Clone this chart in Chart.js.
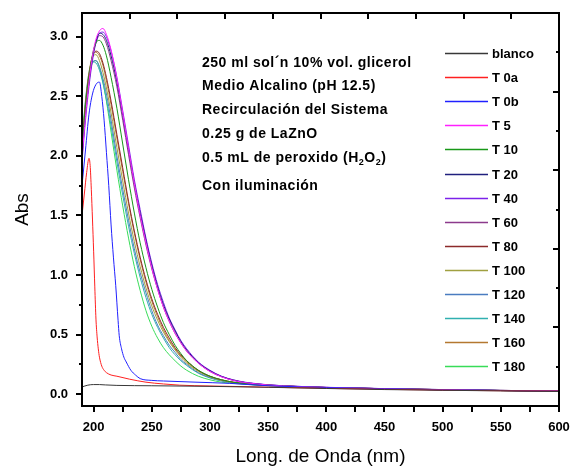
<!DOCTYPE html>
<html><head><meta charset="utf-8">
<script src="https://cdn.jsdelivr.net/npm/chart.js@4"></script>
<style>html,body{margin:0;padding:0;background:#fff}</style>
</head><body>
<canvas id="c" width="571" height="466"></canvas>
<script>
// ---- data ----
const wavelengths = [190,193,196,199,202,205,208,211,215,220,225,230,235,240,245,250,255,260,265,270,275,280,290,300,310,320,330,340,350,375,400,450,500,550,600];
const blancoWl = [190,195,200,205,210,220,250,300,350,400,450,500,550,600];
const blanco = [0.06,0.075,0.08,0.08,0.077,0.073,0.07,0.065,0.057,0.047,0.038,0.032,0.027,0.022];
const t0aWl = [190,192,194,196,197,198,199,200,201,202,203,204,205,207,209,211,215,220,231,245,260,274,300,317,350,400,450,500,550,600];
const t0a = [1.5,1.68,1.86,1.98,1.92,1.72,1.47,1.2,0.9,0.63,0.48,0.38,0.31,0.235,0.2,0.18,0.16,0.15,0.125,0.1,0.085,0.075,0.068,0.065,0.058,0.048,0.04,0.033,0.028,0.025];
const t0bWl = [190,193,196,199,202,205,207,209,211,213,215,217,219,221,222,224,226,228,232,236,240,250,260,288,317,350,400,450,500,550,600];
const t0b = [1.75,2.05,2.35,2.52,2.6,2.62,2.5,2.3,2.03,1.75,1.42,1.15,0.91,0.62,0.49,0.38,0.31,0.27,0.2,0.16,0.13,0.115,0.11,0.1,0.09,0.07,0.055,0.045,0.035,0.03,0.025];
const t5   = [1.98,2.33,2.62,2.84,2.98,3.05,3.07,3.02,2.89,2.65,2.36,2.06,1.77,1.5,1.27,1.06,0.88,0.73,0.61,0.51,0.43,0.36,0.26,0.19,0.145,0.115,0.097,0.085,0.076,0.064,0.056,0.045,0.037,0.03,0.025];
const t10  = [2.05,2.4,2.66,2.85,2.95,2.97,2.93,2.84,2.66,2.4,2.1,1.8,1.52,1.27,1.06,0.88,0.73,0.6,0.5,0.41,0.34,0.28,0.2,0.15,0.12,0.1,0.088,0.08,0.074,0.063,0.055,0.045,0.037,0.03,0.025];
const t20  = [2.0,2.35,2.62,2.83,2.96,3.03,3.02,2.97,2.84,2.62,2.34,2.05,1.77,1.52,1.29,1.08,0.9,0.75,0.63,0.53,0.44,0.37,0.265,0.195,0.148,0.118,0.098,0.086,0.077,0.065,0.056,0.046,0.038,0.031,0.026];
const t40  = [1.95,2.3,2.58,2.8,2.95,3.03,3.04,3.0,2.88,2.66,2.38,2.09,1.8,1.55,1.31,1.1,0.92,0.77,0.64,0.54,0.45,0.38,0.27,0.2,0.15,0.12,0.1,0.088,0.078,0.065,0.057,0.046,0.038,0.031,0.026];
const t60  = [2.02,2.37,2.63,2.83,2.95,3.01,3.0,2.94,2.8,2.58,2.3,2.01,1.73,1.48,1.25,1.05,0.88,0.73,0.61,0.51,0.43,0.36,0.26,0.19,0.145,0.115,0.097,0.085,0.076,0.064,0.056,0.045,0.037,0.031,0.025];
const t80  = [2.08,2.43,2.68,2.83,2.88,2.86,2.78,2.66,2.46,2.18,1.9,1.62,1.37,1.15,0.96,0.8,0.67,0.56,0.47,0.39,0.33,0.28,0.2,0.15,0.12,0.1,0.088,0.08,0.074,0.063,0.055,0.045,0.037,0.03,0.025];
const t100 = [2.1,2.45,2.7,2.83,2.85,2.8,2.7,2.57,2.36,2.07,1.79,1.52,1.28,1.07,0.89,0.74,0.62,0.52,0.44,0.37,0.31,0.26,0.19,0.145,0.115,0.097,0.086,0.078,0.072,0.062,0.054,0.044,0.036,0.03,0.025];
const t120 = [2.08,2.43,2.67,2.79,2.8,2.75,2.65,2.52,2.3,2.0,1.72,1.46,1.22,1.02,0.85,0.7,0.58,0.49,0.41,0.35,0.29,0.25,0.18,0.14,0.112,0.095,0.085,0.077,0.072,0.062,0.054,0.044,0.036,0.03,0.025];
const t140 = [2.12,2.47,2.7,2.79,2.78,2.72,2.61,2.47,2.25,1.95,1.67,1.41,1.18,0.98,0.81,0.67,0.56,0.47,0.39,0.33,0.28,0.24,0.175,0.135,0.11,0.094,0.084,0.077,0.071,0.062,0.054,0.044,0.036,0.03,0.025];
const t160 = [2.06,2.42,2.68,2.84,2.87,2.84,2.76,2.63,2.43,2.15,1.87,1.6,1.35,1.13,0.94,0.78,0.65,0.54,0.45,0.38,0.32,0.27,0.195,0.148,0.118,0.099,0.087,0.079,0.073,0.063,0.055,0.045,0.037,0.031,0.026];
const t180 = [2.1,2.45,2.68,2.78,2.8,2.74,2.62,2.46,2.2,1.88,1.58,1.31,1.07,0.87,0.7,0.57,0.47,0.39,0.33,0.28,0.235,0.2,0.15,0.12,0.1,0.09,0.082,0.076,0.071,0.062,0.054,0.044,0.036,0.03,0.025];

const seriesLabels = ['blanco','T 0a','T 0b','T 5','T 10','T 20','T 40','T 60','T 80','T 100','T 120','T 140','T 160','T 180'];
const seriesColors = ['#383838','#ff2020','#2020ff','#ff20ff','#189818','#20207e','#7c22ea','#8c3a8c','#8c2a2a','#a0a040','#4a7cc0','#30b0b0','#b47830','#38dc58'];
const seriesX = [blancoWl,t0aWl,t0bWl,wavelengths,wavelengths,wavelengths,wavelengths,wavelengths,wavelengths,wavelengths,wavelengths,wavelengths,wavelengths,wavelengths];
const seriesY = [blanco,t0a,t0b,t5,t10,t20,t40,t60,t80,t100,t120,t140,t160,t180];

const noteLines = ['250 ml sol\u00b4n 10% vol. glicerol','Medio Alcalino (pH 12.5)','Recirculaci\u00f3n del Sistema','0.25 g de LaZnO','0.5 mL de peroxido (H|2|O|2|)','Con iluminaci\u00f3n'];
const xTitle = 'Long. de Onda (nm)';
const yTitle = 'Abs';

const datasets = seriesLabels.map((lab, i) => ({
  label: lab,
  data: seriesX[i].map((w, k) => ({x: w, y: seriesY[i][k]})),
  borderColor: seriesColors[i],
  borderWidth: 1,
  pointRadius: 0,
  fill: false,
  cubicInterpolationMode: 'monotone'
}));

const FONT = "'Liberation Sans', Arial, sans-serif";

const extras = {
  id: 'extras',
  afterDraw(chart) {
    const {ctx, chartArea: a, scales} = chart;
    const xs = scales.x, ys = scales.y, xt = scales.xTop, yr = scales.yRight;
    ctx.save();
    ctx.strokeStyle = '#000';
    ctx.lineWidth = 2;
    ctx.strokeRect(a.left, a.top, a.right - a.left, a.bottom - a.top);
    ctx.beginPath();
    xs.ticks.forEach(t => {
      const p = Math.round(xs.getPixelForValue(t.value));
      ctx.moveTo(p, a.bottom); ctx.lineTo(p, a.bottom + 6);
    });
    ys.ticks.forEach(t => {
      const p = Math.round(ys.getPixelForValue(t.value));
      const major = Math.abs(t.value * 2 - Math.round(t.value * 2)) < 1e-6;
      ctx.moveTo(a.left, p); ctx.lineTo(a.left - (major ? 6 : 3), p);
    });
    xt.ticks.forEach(t => {
      if (t.value <= 0 || t.value >= 10) return;
      const p = Math.round(xt.getPixelForValue(t.value));
      ctx.moveTo(p, a.top); ctx.lineTo(p, a.top + 6);
    });
    yr.ticks.forEach(t => {
      if (t.value <= 0 || t.value >= 10) return;
      const p = Math.round(yr.getPixelForValue(t.value));
      ctx.moveTo(a.right, p); ctx.lineTo(a.right - (t.value % 2 === 0 ? 6 : 3), p);
    });
    ctx.stroke();

    // legend inside the plot
    ctx.font = 'bold 13px ' + FONT;
    ctx.textBaseline = 'middle';
    ctx.textAlign = 'left';
    chart.data.datasets.forEach((ds, i) => {
      const y = Math.round(a.top + 40 + i * 24.1) + 0.5;
      ctx.strokeStyle = ds.borderColor;
      ctx.lineWidth = 1.3;
      ctx.beginPath();
      ctx.moveTo(a.right - 114, y); ctx.lineTo(a.right - 71, y);
      ctx.stroke();
      ctx.fillStyle = '#000';
      ctx.fillText(ds.label, a.right - 67, y + 1);
    });

    // annotation text
    ctx.font = 'bold 14px ' + FONT;
    if ('letterSpacing' in ctx) ctx.letterSpacing = '0.5px';
    const ys0 = [50, 73.5, 97.5, 121.5, 145, 173];
    noteLines.forEach((line, i) => {
      let x = a.left + 120;
      const y = a.top + ys0[i];
      const parts = line.split('|');
      parts.forEach((part, k) => {
        if (k % 2 === 1) {
          ctx.font = 'bold 9px ' + FONT;
          ctx.fillText(part, x, y + 5);
          x += ctx.measureText(part).width;
          ctx.font = 'bold 14px ' + FONT;
        } else {
          ctx.fillText(part, x, y);
          x += ctx.measureText(part).width;
        }
      });
    });
    ctx.restore();
  }
};

new Chart(document.getElementById('c'), {
  type: 'line',
  data: {datasets},
  plugins: [extras],
  options: {
    responsive: false,
    animation: false,
    devicePixelRatio: 1,
    layout: {padding: {left: 0, right: 12, top: 13, bottom: 0}},
    plugins: {legend: {display: false}, tooltip: {enabled: false}},
    scales: {
      x: {
        type: 'linear', position: 'bottom', min: 190, max: 600,
        grid: {display: false, drawTicks: false},
        border: {display: false},
        ticks: {
          stepSize: 25, includeBounds: false, autoSkip: false, maxRotation: 0,
          padding: 14, color: '#000', font: {family: FONT, size: 13, weight: 'bold'},
          callback: v => (v % 50 === 0 ? String(v) : '')
        },
        title: {display: true, text: xTitle, color: '#000', font: {family: FONT, size: 19, lineHeight: 1}, padding: {top: 0, bottom: 0}},
        afterFit: s => { s.height = 60; s.paddingLeft = 0; s.paddingRight = 0; }
      },
      y: {
        type: 'linear', position: 'left', min: -0.1, max: 3.2,
        grid: {display: false, drawTicks: false},
        border: {display: false},
        ticks: {
          stepSize: 0.25, includeBounds: false, autoSkip: false,
          padding: 14, color: '#000', font: {family: FONT, size: 13, weight: 'bold'},
          callback: v => (Math.abs(v * 2 - Math.round(v * 2)) < 1e-6 ? v.toFixed(1) : '')
        },
        title: {display: true, text: yTitle, color: '#000', font: {family: FONT, size: 19}, padding: {top: 11, bottom: 0}},
        afterFit: s => { s.width = 82; s.paddingTop = 0; s.paddingBottom = 0; }
      },
      xTop: {type: 'linear', axis: 'x', position: 'top', display: false, min: 0, max: 10, ticks: {stepSize: 1}},
      yRight: {type: 'linear', axis: 'y', position: 'right', display: false, min: 0, max: 10, ticks: {stepSize: 1}}
    }
  }
});
</script>
</body></html>
